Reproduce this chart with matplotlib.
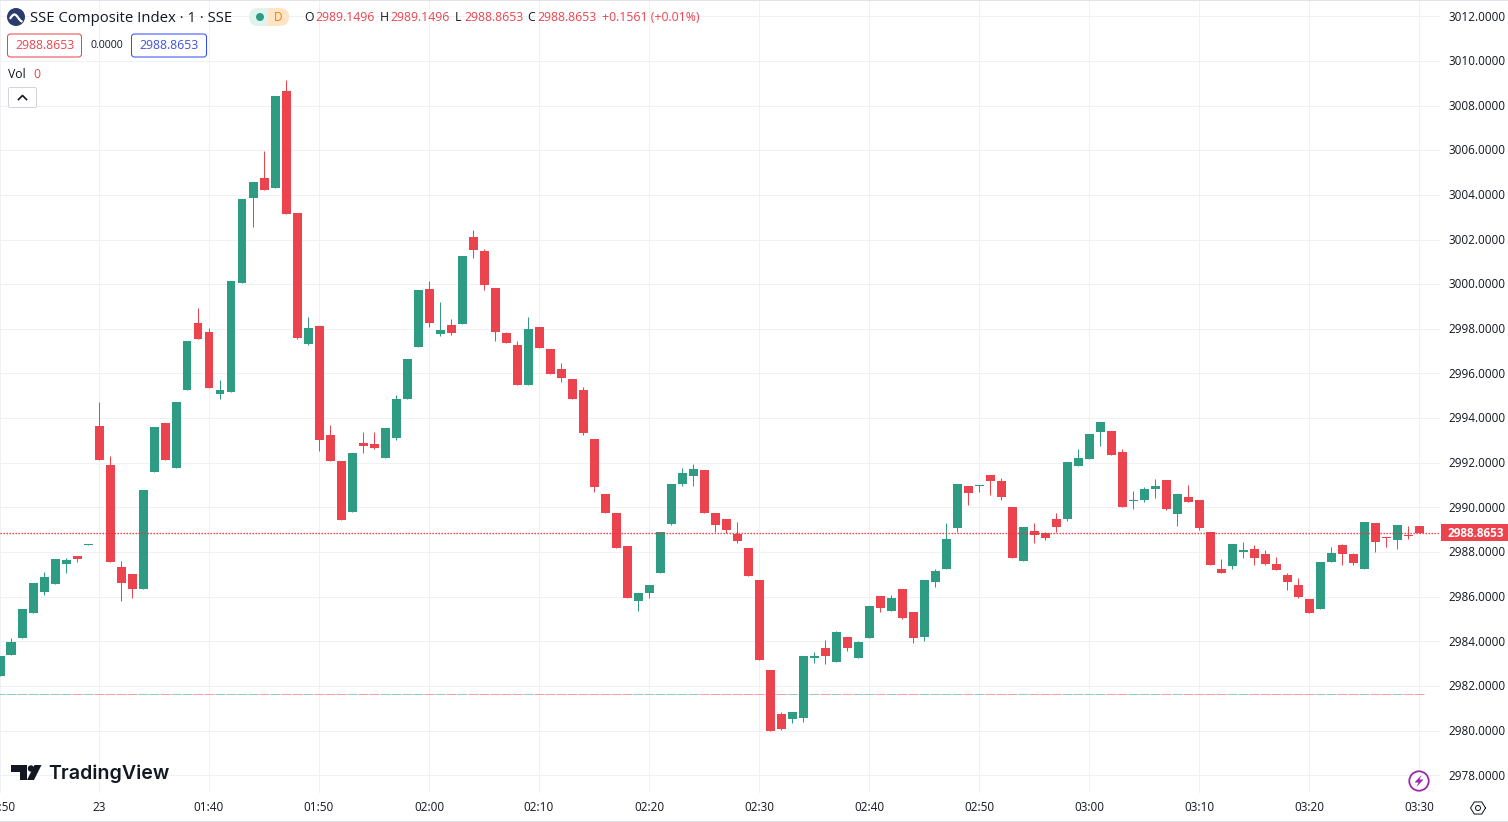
import matplotlib
matplotlib.use('Agg')
import matplotlib.pyplot as plt
from matplotlib.patches import Circle, FancyBboxPatch, Polygon, Rectangle
from matplotlib.transforms import ScaledTranslation
import numpy as np

plt.rcParams['font.family'] = ['Open Sans', 'DejaVu Sans']

# 1 minute candles
opens = [2982.45, 2983.39, 2984.15, 2985.27, 2986.22, 2986.57, 2987.47, 2987.83, 2988.32, 2993.65,
         2991.90, 2987.33, 2987.02, 2986.35, 2991.59, 2993.78, 2991.77, 2995.26, 2998.26, 2997.86,
         2995.08, 2995.17, 3000.05, 3003.86, 3004.75, 3004.31, 3008.65, 3003.19, 2997.32, 2998.13,
         2993.25, 2992.08, 2989.80, 2992.89, 2992.84, 2992.22, 2993.11, 2994.86, 2997.19, 2999.78,
         2997.77, 2998.17, 2998.22, 3002.11, 3001.49, 2999.83, 2997.81, 2997.28, 2995.48, 2998.08,
         2997.10, 2996.20, 2995.75, 2995.26, 2993.07, 2990.60, 2989.75, 2988.28, 2985.81, 2986.17,
         2987.07, 2989.26, 2991.05, 2991.41, 2991.68, 2989.75, 2989.48, 2988.81, 2988.19, 2986.75,
         2982.72, 2980.75, 2980.53, 2980.57, 2983.26, 2983.71, 2983.08, 2984.20, 2983.26, 2984.15,
         2986.03, 2985.36, 2986.35, 2985.32, 2984.20, 2986.66, 2987.24, 2989.08, 2990.96, 2990.96,
         2991.45, 2991.19, 2990.02, 2987.60, 2988.95, 2988.86, 2989.48, 2989.48, 2991.86, 2992.17,
         2993.38, 2993.42, 2992.48, 2990.29, 2990.33, 2990.83, 2991.23, 2989.71, 2990.47, 2990.33,
         2988.90, 2987.24, 2987.38, 2988.01, 2988.14, 2987.92, 2987.47, 2986.98, 2986.53, 2985.90,
         2985.45, 2987.56, 2988.32, 2987.92, 2987.24, 2989.30, 2988.68, 2988.54, 2988.77, 2989.1496]
highs = [2983.35, 2984.15, 2985.45, 2986.62, 2987.11, 2987.69, 2987.74, 2987.83, 2988.37, 2994.73,
         2992.31, 2987.60, 2987.02, 2990.78, 2993.60, 2993.78, 2994.73, 2997.45, 2998.93, 2998.04,
         2995.71, 3000.14, 3003.81, 3004.58, 3005.96, 3008.43, 3009.14, 3003.19, 2998.53, 2998.13,
         2993.69, 2992.08, 2992.44, 2993.38, 2993.38, 2993.56, 2995.04, 2996.65, 2999.74, 3000.14,
         2999.20, 2998.44, 3001.26, 3002.43, 3001.58, 2999.83, 2997.86, 2997.45, 2998.53, 2998.08,
         2997.10, 2996.47, 2995.75, 2995.40, 2993.07, 2990.60, 2989.75, 2988.28, 2986.17, 2986.53,
         2988.90, 2991.05, 2991.77, 2991.95, 2991.68, 2989.75, 2989.48, 2989.35, 2988.19, 2986.75,
         2982.72, 2980.84, 2980.84, 2983.35, 2983.53, 2984.06, 2984.47, 2984.20, 2984.02, 2985.59,
         2986.03, 2986.08, 2986.35, 2985.32, 2986.75, 2987.24, 2989.30, 2991.05, 2990.96, 2991.01,
         2991.45, 2991.32, 2990.02, 2989.13, 2989.30, 2988.90, 2989.75, 2992.04, 2992.62, 2993.29,
         2993.83, 2993.42, 2992.62, 2990.74, 2990.92, 2991.28, 2991.23, 2990.60, 2991.01, 2990.33,
         2988.90, 2987.69, 2988.37, 2988.45, 2988.32, 2988.10, 2987.78, 2987.07, 2986.84, 2985.90,
         2987.56, 2988.23, 2988.37, 2987.96, 2989.35, 2989.30, 2988.68, 2989.22, 2989.17, 2989.1496]
lows = [2982.45, 2983.39, 2984.15, 2985.27, 2986.08, 2986.57, 2987.07, 2987.56, 2988.32, 2992.13,
        2987.56, 2985.81, 2985.95, 2986.35, 2991.59, 2992.13, 2991.77, 2995.26, 2997.54, 2995.35,
        2994.86, 2995.17, 3000.05, 3002.56, 3004.22, 3004.31, 3003.14, 2997.54, 2997.28, 2992.53,
        2992.08, 2989.44, 2989.80, 2992.44, 2992.62, 2992.22, 2993.02, 2994.86, 2997.19, 2998.08,
        2997.68, 2997.73, 2998.22, 3001.17, 2999.74, 2997.45, 2997.37, 2995.48, 2995.48, 2997.14,
        2995.98, 2995.62, 2994.86, 2993.25, 2990.69, 2989.75, 2988.19, 2985.95, 2985.36, 2985.95,
        2987.07, 2989.22, 2990.96, 2990.96, 2989.75, 2988.90, 2988.86, 2988.41, 2986.93, 2983.17,
        2979.99, 2980.03, 2980.35, 2980.39, 2983.03, 2982.99, 2983.08, 2983.57, 2983.26, 2984.15,
        2985.32, 2985.36, 2985.00, 2983.93, 2984.02, 2986.44, 2987.24, 2988.90, 2990.11, 2990.69,
        2990.56, 2990.33, 2987.74, 2987.60, 2988.41, 2988.54, 2988.90, 2989.39, 2991.86, 2992.17,
        2992.75, 2992.35, 2990.02, 2989.93, 2990.24, 2990.42, 2989.89, 2989.17, 2990.24, 2988.99,
        2987.42, 2987.07, 2987.24, 2987.74, 2987.42, 2987.42, 2987.20, 2986.30, 2985.95, 2985.27,
        2985.45, 2987.56, 2987.42, 2987.42, 2987.24, 2988.01, 2988.23, 2988.14, 2988.59, 2988.8653]
closes = [2983.35, 2983.97, 2985.45, 2986.62, 2986.89, 2987.69, 2987.65, 2987.69, 2988.37, 2992.13,
          2987.56, 2986.62, 2986.35, 2990.78, 2993.60, 2992.13, 2994.73, 2997.45, 2997.54, 2995.35,
          2995.26, 3000.14, 3003.81, 3004.58, 3004.22, 3008.43, 3003.14, 2997.59, 2998.04, 2993.02,
          2992.08, 2989.44, 2992.44, 2992.75, 2992.66, 2993.56, 2994.86, 2996.65, 2999.74, 2998.26,
          2997.95, 2997.81, 3001.26, 3001.53, 2999.96, 2997.86, 2997.37, 2995.48, 2997.99, 2997.14,
          2995.98, 2995.80, 2994.86, 2993.34, 2990.92, 2989.75, 2988.19, 2985.95, 2986.17, 2986.53,
          2988.90, 2991.05, 2991.54, 2991.73, 2989.75, 2989.22, 2988.99, 2988.50, 2986.93, 2983.17,
          2979.99, 2980.08, 2980.84, 2983.35, 2983.35, 2983.35, 2984.42, 2983.71, 2983.97, 2985.59,
          2985.50, 2985.95, 2985.05, 2984.15, 2986.75, 2987.15, 2988.59, 2991.05, 2990.65, 2991.01,
          2991.19, 2990.47, 2987.74, 2989.13, 2988.77, 2988.63, 2989.13, 2992.04, 2992.22, 2993.29,
          2993.83, 2992.35, 2990.02, 2990.33, 2990.83, 2990.96, 2989.93, 2990.60, 2990.24, 2989.08,
          2987.42, 2987.07, 2988.37, 2988.10, 2987.74, 2987.47, 2987.20, 2986.66, 2985.99, 2985.27,
          2987.56, 2987.96, 2987.92, 2987.51, 2989.35, 2988.45, 2988.63, 2989.22, 2988.72, 2988.8653]

y_ticks = [2978, 2980, 2982, 2984, 2986, 2988, 2990, 2992, 2994, 2996, 2998, 3000, 3002, 3004, 3006, 3008, 3010, 3012]
x_tick_pos = [0, 9, 19, 29, 39, 49, 59, 69, 79, 89, 99, 109, 119, 129]
x_tick_labels = ['06:50', '23', '01:40', '01:50', '02:00', '02:10', '02:20', '02:30', '02:40', '02:50',
                 '03:00', '03:10', '03:20', '03:30']
vol_level = 2981.63  # the zero volume bars sit here

GREEN = '#2e9b83'
RED = '#eb444e'
TEXT = '#131722'
GRID = '#eff1f4'
PX = 0.72  # one pixel in points

W, H = 1508, 822
fig = plt.figure(figsize=(W / 100, H / 100), dpi=100, facecolor='white')
ax = fig.add_axes([0, (H - 793) / H, 1440 / W, 792 / H])

x = np.arange(len(opens))
o = np.array(opens)
c = np.array(closes)
colors = [GREEN if b >= a else RED for a, b in zip(opens, closes)]

# grid
ax.set_axisbelow(True)
ax.grid(True, color=GRID, linewidth=PX)

# volume dashes, wicks, bodies
ax.hlines([vol_level] * len(x), x - 0.45, x + 0.45, colors=colors, linewidth=PX, alpha=0.5)
ax.vlines(x, lows, highs, colors=colors, linewidth=PX)
ax.bar(x, np.abs(c - o), bottom=np.minimum(o, c), width=9 / 11, color=colors, linewidth=0, zorder=3)

# last price line
ax.axhline(closes[-1], color='#f0303c', linewidth=1, linestyle=(0, (1, 1.16)), zorder=4)

ax.set_xlim(0, 1440 / 11)
ax.set_ylim(3012.726 - 793 * 0.044783, 3012.726 - 1 * 0.044783)
ax.set_xticks(x_tick_pos)
ax.set_xticklabels(x_tick_labels)
ax.set_yticks(y_ticks)
ax.set_yticklabels(['%.4f' % v for v in y_ticks])
ax.yaxis.tick_right()
ax.tick_params(axis='both', length=0, labelsize=8.45, labelcolor=TEXT)
ax.tick_params(axis='y', pad=6)
ax.tick_params(axis='x', pad=5.6)
for s in ax.spines.values():
    s.set_visible(False)
# price labels sit a little higher than their grid lines
for lbl in ax.get_yticklabels():
    lbl.set_transform(lbl.get_transform() + ScaledTranslation(0, 0.7 / 100, fig.dpi_scale_trans))

# everything around the chart goes in a pixel sized overlay
ui = fig.add_axes([0, 0, 1, 1])
ui.set_xlim(0, W)
ui.set_ylim(H, 0)
ui.axis('off')

ui.add_patch(Rectangle((0, 0), W, 1, color='#e0e3eb', lw=0))
ui.add_patch(Rectangle((0, 820.5), W, 1.5, color='#e0e3eb', lw=0))


def label(px, py, s, color=TEXT, size=9, ha='left', **kw):
    ui.text(px, py, s, color=color, fontsize=size, ha=ha, va='center', **kw)


# title row
ui.add_patch(Circle((16, 17), 9, color='#2a3b6e', lw=0))
t = np.linspace(0, np.pi, 20)
ui.plot(10.5 + 11 * t / np.pi, 18 - 3.5 * np.sin(t * 1.4), color='white', linewidth=1.6)
label(30, 18, 'SSE Composite Index · 1 · SSE', size=10.75)
ui.add_patch(FancyBboxPatch((249, 8), 20, 18, boxstyle='round,pad=0,rounding_size=9', fc='#dff3ef', ec='none'))
ui.add_patch(FancyBboxPatch((269, 8), 20, 18, boxstyle='round,pad=0,rounding_size=9', fc='#ffe5c6', ec='none'))
ui.add_patch(Rectangle((258, 8), 10, 18, fc='#dff3ef', ec='none'))
ui.add_patch(Rectangle((268, 8), 10, 18, fc='#ffe5c6', ec='none'))
ui.add_patch(Circle((260, 17), 4, color=GREEN, lw=0))
label(278, 17.5, 'D', color='#f57c00', size=8.6, ha='center')

for px, s, col in [(304, 'O', TEXT), (315, '2989.1496', RED), (380, 'H', TEXT), (390, '2989.1496', RED),
                   (455, 'L', TEXT), (464, '2988.8653', RED), (527, 'C', TEXT), (537, '2988.8653', RED),
                   (602, '+0.1561 (+0.01%)', RED)]:
    label(px, 17.8, s, color=col, size=8.8)

# price boxes
ui.add_patch(FancyBboxPatch((7.5, 34), 74, 23, boxstyle='round,pad=0,rounding_size=3', fc='white', ec=RED, lw=PX))
label(44.5, 45.8, '2988.8653', color=RED, size=8.8, ha='center')
label(107, 45.3, '0.0000', size=7.6, ha='center')
ui.add_patch(FancyBboxPatch((131.5, 34), 75, 23, boxstyle='round,pad=0,rounding_size=3', fc='white', ec='#2f4bff', lw=PX))
label(169, 45.8, '2988.8653', color='#3f51d8', size=8.8, ha='center')

# volume legend and collapse button
label(8, 74, 'Vol', size=8.8)
label(33, 74, '0', color=RED, size=8.8)
ui.add_patch(FancyBboxPatch((8.5, 87.5), 28, 20, boxstyle='round,pad=0,rounding_size=2', fc='white', ec='#d1d4dc', lw=PX))
ui.plot([18.5, 22.5, 26.5], [99.5, 95.5, 99.5], color=TEXT, linewidth=1.2)

# last price tag
ui.add_patch(Rectangle((1441, 524), 67, 17, color=RED, lw=0))
label(1476, 533, '2988.8653', color='white', size=8.5, ha='center', fontweight='bold')

# TradingView mark
ui.add_patch(Polygon([(11, 765), (27, 765), (27, 780), (20, 780), (20, 772), (11, 772)], color=TEXT, lw=0))
ui.add_patch(Circle((31, 768.5), 3.2, color=TEXT, lw=0))
ui.add_patch(Polygon([(34.5, 765), (41.5, 765), (34, 780), (27, 780)], color=TEXT, lw=0))
label(48, 774, 'TradingView', size=14.1, fontfamily='Inter', fontweight='semibold')

# bolt and settings icons
ui.add_patch(Circle((1419, 781), 9.7, fc='white', ec='#9c27b0', lw=1.3))
ui.add_patch(Polygon([(1421.5, 775), (1414.5, 782.5), (1418.5, 782.5), (1416.5, 787), (1423.5, 779.5),
                      (1419.5, 779.5)], color='#9c27b0', lw=0))
a = np.arange(7) * np.pi / 3
ui.plot(1478 + 7.5 * np.cos(a), 808 + 7 * np.sin(a), color=TEXT, linewidth=PX)
ui.add_patch(Circle((1478, 808), 2.5, fc='none', ec=TEXT, lw=PX))

fig.savefig('out.png', dpi=100, facecolor='white')
